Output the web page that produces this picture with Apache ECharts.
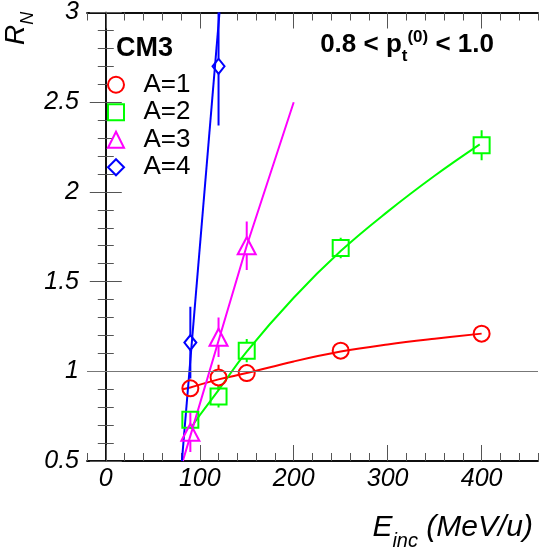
<!DOCTYPE html>
<html>
<head>
<meta charset="utf-8">
<script src="https://cdn.jsdelivr.net/npm/echarts@6/dist/echarts.min.js"></script>
<style>
  html, body { margin: 0; padding: 0; background: #fff; }
  #chart { width: 540px; height: 550px; }
</style>
</head>
<body>
<div id="chart"></div>
<script>
// measured points: incident energy (MeV/u) and R_N with error
var energyA1 = [90, 120, 150, 250, 400];
var valueA1 = [0.905, 0.966, 0.99, 1.115, 1.21];
var errorA1 = [0.03, 0.07, 0.05, 0.02, 0.02];

var energyA2 = [90, 120, 150, 250, 400];
var valueA2 = [0.73, 0.86, 1.115, 1.687, 2.26];
var errorA2 = [0.04, 0.062, 0.065, 0.057, 0.083];

var energyA3 = [90, 120, 150];
var valueA3 = [0.66, 1.19, 1.70];
var errorA3 = [0.11, 0.11, 0.135];

var energyA4 = [90, 120];
var valueA4 = [1.16, 2.70];
var errorA4 = [0.20, 0.33];

// fit curves
var fitA1E = [82, 90, 120, 150, 200, 250, 300, 350, 400];
var fitA1V = [0.90, 0.91, 0.955, 0.99, 1.055, 1.11, 1.15, 1.182, 1.21];
var fitA2E = [90, 100, 120, 150, 200, 250, 300, 350, 398];
var fitA2V = [0.68, 0.755, 0.895, 1.11, 1.41, 1.67, 1.89, 2.09, 2.265];
var fitA3E = [82, 90, 120, 150, 200];
var fitA3V = [0.5, 0.64, 1.17, 1.70, 2.5];
var fitA4E = [81, 121];
var fitA4V = [0.5, 3.0];

var xMajorTicks = [0, 100, 200, 300, 400];
var names = ['A=1', 'A=2', 'A=3', 'A=4'];
var colors = ['#ff0000', '#00ff00', '#ff00ff', '#0000ff'];
var symbols = ['circle', 'rect', 'triangle', 'diamond'];
var legendIcons = ['emptyCircle', 'emptyRect', 'emptyTriangle', 'emptyDiamond'];
var symbolSizes = [16, 16, [18, 17], [12, 15]];
var symbolHalf = [8, 8, 8, 7.5];

var FONT = 'Liberation Sans';

function pairs(xs, ys) {
  return xs.map(function (x, i) { return [x, ys[i]]; });
}
function errPairs(xs, ys, es) {
  return xs.map(function (x, i) { return [x, ys[i] - es[i], ys[i] + es[i], ys[i]]; });
}

var dom = document.getElementById('chart');
var myChart = echarts.init(dom);

var tickStyle = { color: '#555', width: 1 };
var frameLine = { show: true, lineStyle: { color: '#000', width: 1.5 } };

function xAxisBase(pos, major) {
  var ax = {
    type: 'value', min: -20, max: 460, interval: 20, position: pos,
    axisLine: frameLine,
    axisTick: { show: true, inside: true, length: major ? 16 : 8, lineStyle: tickStyle },
    axisLabel: { show: false },
    splitLine: { show: false }
  };
  if (major) {
    ax.axisTick.customValues = xMajorTicks;
    if (pos === 'bottom') {
      ax.axisLabel = {
        show: true, customValues: xMajorTicks, margin: 6,
        fontFamily: FONT, fontStyle: 'italic', fontSize: 25, color: '#000'
      };
    }
  }
  return ax;
}

function yAxisBase(pos) {
  return {
    type: 'value', min: 0.5, max: 3, interval: 0.5, position: pos,
    axisLine: frameLine,
    axisTick: { show: true, inside: true, length: 16, lineStyle: tickStyle },
    minorTick: { show: true, splitNumber: 5, length: 8, lineStyle: tickStyle },
    axisLabel: pos === 'left' ? {
      show: true, margin: 8, fontFamily: FONT, fontStyle: 'italic', fontSize: 25, color: '#000'
    } : { show: false },
    splitLine: { show: false }
  };
}

var energies = [energyA1, energyA2, energyA3, energyA4];
var values = [valueA1, valueA2, valueA3, valueA4];
var errors = [errorA1, errorA2, errorA3, errorA4];
var fitsE = [fitA1E, fitA2E, fitA3E, fitA4E];
var fitsV = [fitA1V, fitA2V, fitA3V, fitA4V];

var series = [];

// reference line at R_N = 1
series.push({
  type: 'line', data: [], silent: true,
  markLine: {
    silent: true, symbol: 'none', label: { show: false },
    lineStyle: { color: '#777', width: 1, type: 'solid' },
    data: [{ yAxis: 1 }]
  }
});

for (var k = 0; k < 4; k++) {
  // fit curve
  series.push({
    type: 'line', data: pairs(fitsE[k], fitsV[k]),
    showSymbol: false, smooth: k < 2 ? 0.4 : false, silent: true,
    lineStyle: { color: colors[k], width: 2 }, clip: true, z: 2
  });
  // error bars, drawn outside the marker only
  (function (col, half) {
    series.push({
      type: 'custom', clip: true, silent: true, z: 3,
      data: errPairs(energies[k], values[k], errors[k]),
      renderItem: function (params, api) {
        var lo = api.coord([api.value(0), api.value(1)]);
        var hi = api.coord([api.value(0), api.value(2)]);
        var c = api.coord([api.value(0), api.value(3)]);
        var kids = [];
        if (lo[1] > c[1] + half) {
          kids.push({ type: 'line', shape: { x1: c[0], y1: c[1] + half, x2: lo[0], y2: lo[1] },
            style: { stroke: col, lineWidth: 2 } });
        }
        if (hi[1] < c[1] - half) {
          kids.push({ type: 'line', shape: { x1: c[0], y1: c[1] - half, x2: hi[0], y2: hi[1] },
            style: { stroke: col, lineWidth: 2 } });
        }
        return { type: 'group', children: kids };
      }
    });
  })(colors[k], symbolHalf[k]);
  // markers
  series.push({
    name: names[k], type: 'scatter', data: pairs(energies[k], values[k]),
    symbol: symbols[k], symbolSize: symbolSizes[k], z: 4,
    itemStyle: { color: 'rgba(255,255,255,0)', borderColor: colors[k], borderWidth: 2, opacity: 1 }
  });
}

var option = {
  animation: false,
  backgroundColor: '#fff',
  grid: { left: 87, right: 2, top: 9, bottom: 89 },
  xAxis: [
    xAxisBase('bottom', false), xAxisBase('bottom', true),
    xAxisBase('top', false), xAxisBase('top', true)
  ],
  yAxis: [yAxisBase('left'), yAxisBase('right')],
  legend: {
    orient: 'vertical', left: 107, top: 71, padding: 0, itemGap: 0,
    itemWidth: 16, itemHeight: 16,
    data: names.map(function (n, i) {
      return {
        name: n, icon: legendIcons[i],
        itemStyle: { color: colors[i], borderColor: colors[i], borderWidth: 2, opacity: 1 }
      };
    }),
    formatter: function (n) { return '  ' + n; },
    textStyle: { fontFamily: FONT, fontSize: 26, color: '#000', lineHeight: 27.5 }
  },
  graphic: [
    {
      type: 'text', left: 116, top: 35,
      style: { text: 'CM3', font: 'bold 27px "Liberation Sans"', fill: '#000' }
    },
    {
      type: 'text', x: 494, y: 58,
      style: {
        text: '{b|0.8 < p}{s|t}{sup|(0)}{b| < 1.0}',
        align: 'right', verticalAlign: 'bottom',
        rich: {
          b: { font: 'bold 26px "Liberation Sans"', fill: '#000', verticalAlign: 'bottom' },
          s: { font: 'bold 17px "Liberation Sans"', fill: '#000', padding: [0, 0, -7, 0], verticalAlign: 'bottom' },
          sup: { font: 'bold 17px "Liberation Sans"', fill: '#000', padding: [0, 0, 12, 0], verticalAlign: 'bottom' }
        }
      }
    },
    {
      type: 'text', x: 30, y: 45, rotation: Math.PI / 2,
      style: {
        text: '{i|R}{sub|N}', align: 'left', verticalAlign: 'bottom',
        rich: {
          i: { font: 'italic 28px "Liberation Sans"', fill: '#000', verticalAlign: 'bottom' },
          sub: { font: 'italic 18px "Liberation Sans"', fill: '#000', padding: [0, 0, -7, 0], verticalAlign: 'bottom' }
        }
      }
    },
    {
      type: 'text', x: 533, y: 543,
      style: {
        text: '{i|E}{sub|inc}{i| (MeV/u)}', align: 'right', verticalAlign: 'bottom',
        rich: {
          i: { font: 'italic 30px "Liberation Sans"', fill: '#000', verticalAlign: 'bottom' },
          sub: { font: 'italic 20px "Liberation Sans"', fill: '#000', padding: [0, 0, -8, 0], verticalAlign: 'bottom' }
        }
      }
    }
  ],
  series: series
};

myChart.setOption(option, true);
</script>
</body>
</html>
